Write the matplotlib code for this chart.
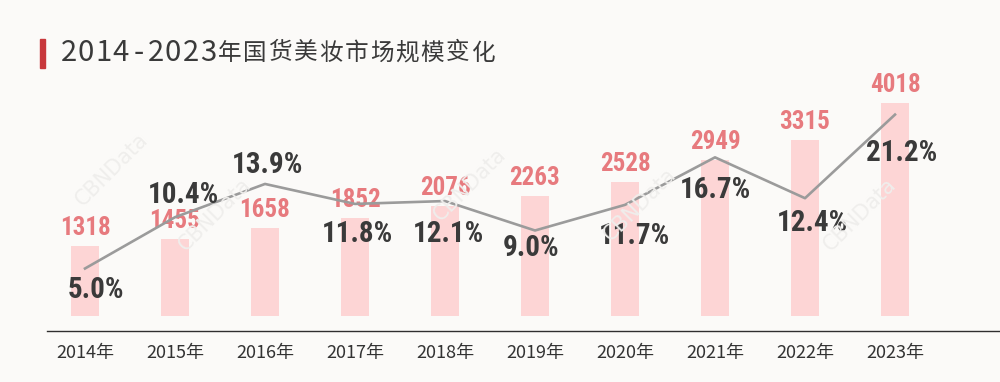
#!/usr/bin/env python3
"""Domestic beauty market size 2014-2023: bars for size, line for growth rate."""
import matplotlib
matplotlib.use("Agg")
import matplotlib.pyplot as plt
import matplotlib.font_manager as fm
from matplotlib.patches import Rectangle
import numpy as np

YEARS = ["2014年", "2015年", "2016年", "2017年", "2018年",
         "2019年", "2020年", "2021年", "2022年", "2023年"]
MARKET_SIZE = [1318, 1455, 1658, 1852, 2076, 2263, 2528, 2949, 3315, 4018]
GROWTH = [5.0, 10.4, 13.9, 11.8, 12.1, 9.0, 11.7, 16.7, 12.4, 21.2]
GROWTH_LABELS = ["5.0%", "10.4%", "13.9%", "11.8%", "12.1%",
                 "9.0%", "11.7%", "16.7%", "12.4%", "21.2%"]
TITLE = "2014-2023年国货美妆市场规模变化"

# label offsets (pixels) of the growth labels relative to their line point
PCT_OFFSETS = [(11, -21), (8, 22), (3, 19), (2, -30), (3, -33),
               (-4, -18), (9, -31), (0, -33), (7, -25), (7, -38)]

BG = "#FBFAF8"
BAR_COLOR = "#FDD5D5"
BAR_TEXT = "#E77A7E"
LINE_COLOR = "#9B9B9B"
DARK = "#3A3A3A"
RED = "#C8383C"

W, H = 1000, 382

names = {f.name for f in fm.fontManager.ttflist}
COND = next((n for n in ["Liberation Sans Narrow", "DejaVu Sans Condensed",
                         "Roboto Condensed", "Open Sans Condensed"]
             if n in names), "DejaVu Sans")
CJK = ["Noto Sans CJK SC", "DejaVu Sans"]


def main():
    plt.rcParams["font.family"] = CJK
    fig = plt.figure(figsize=(W / 100, H / 100), dpi=100, facecolor=BG)

    # plot area: baseline at y=316 px, top at y=60 px
    ax = fig.add_axes([40 / W, (H - 316) / H, 900 / W, 256 / H])
    ax.set_facecolor("none")
    ax2 = ax.twinx()
    x = np.arange(len(YEARS))

    ax.bar(x, MARKET_SIZE, width=0.32, color=BAR_COLOR, zorder=1)
    ax.set_xlim(-0.5, len(YEARS) - 0.5)
    ax.set_ylim(0, 256 / 0.053)
    for xi, v in zip(x, MARKET_SIZE):
        ax.annotate(f"{v}", (xi, v), xytext=(0, 6), textcoords="offset pixels",
                    ha="center", va="bottom", fontsize=18, fontweight="bold",
                    family=COND, color=BAR_TEXT, annotation_clip=False)

    ax2.plot(x, GROWTH, color=LINE_COLOR, lw=1.9, zorder=3)
    ax2.set_ylim(0, 256 / 9.5)
    for xi, v, lab, (dx, dy) in zip(x, GROWTH, GROWTH_LABELS, PCT_OFFSETS):
        ax2.annotate(lab, (xi, v), xytext=(dx, dy), textcoords="offset pixels",
                     ha="center", va="center", fontsize=21, fontweight="bold",
                     family=COND, color=DARK, annotation_clip=False)

    for a in (ax, ax2):
        for s in a.spines.values():
            s.set_visible(False)
        a.set_yticks([])
    ax.set_xticks(x)
    ax.set_xticklabels(YEARS, fontsize=13, color="#333333")
    ax.tick_params(axis="x", length=0, pad=20)

    # baseline rule below the bars
    fig.add_artist(plt.Line2D([47 / W, 1.0], [(H - 331) / H] * 2,
                              color="#2F2F2F", lw=1.0))

    # faint watermarks
    for wx, wy in [(112, 170), (215, 215), (470, 185), (640, 205), (860, 215)]:
        fig.text(wx / W, (H - wy) / H, "CBNData", rotation=45, fontsize=15,
                 color="#EFEEEC", ha="center", va="center", zorder=0,
                 family="DejaVu Sans")

    # title: red marker + letter-spaced text
    fig.patches.append(Rectangle((40 / W, (H - 68) / H), 5 / W, 29 / H,
                                 transform=fig.transFigure, color=RED))
    cx = 60
    for ch in TITLE:
        is_ascii = ord(ch) < 128
        adv = 17.4 if is_ascii else 25.4
        fig.text((cx + adv / 2) / W, (H - 53) / H, ch, ha="center", va="center",
                 fontsize=21 if is_ascii else 17, fontweight="light",
                 color=DARK, family=CJK)
        cx += adv

    fig.savefig("out.png", dpi=100, facecolor=BG)
    plt.close(fig)


if __name__ == "__main__":
    main()
